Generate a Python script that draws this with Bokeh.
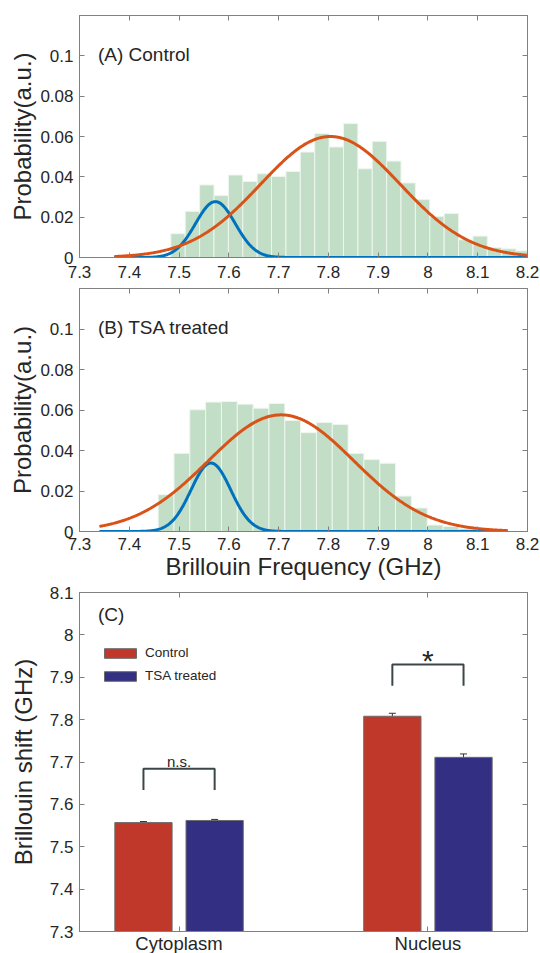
import numpy as np
from bokeh.plotting import figure
from bokeh.layouts import column
from bokeh.models import (Range1d, LinearAxis, FixedTicker, Legend, LegendItem,
                          Whisker, TeeHead, ColumnDataSource, Label,
                          CustomLabelingPolicy)
from bokeh.core.properties import value
from bokeh.embed import file_html
from bokeh.resources import INLINE

# ---------------- data ----------------
freq_ticks = [7.3, 7.4, 7.5, 7.6, 7.7, 7.8, 7.9, 8.0, 8.1, 8.2]
freq_tick_labels = ["7.3", "7.4", "7.5", "7.6", "7.7", "7.8", "7.9", "8", "8.1", "8.2"]
prob_ticks = [0, 0.02, 0.04, 0.06, 0.08, 0.1]
prob_tick_labels = ["0", "0.02", "0.04", "0.06", "0.08", "0.1"]

# (A) Control histogram
control_bin_start = 7.4835
control_bin_width = 0.0289
control_hist = [0.0118, 0.0229, 0.0360, 0.0307, 0.0409, 0.0377, 0.0415, 0.0402,
                0.0427, 0.0523, 0.0615, 0.0548, 0.0664, 0.0440, 0.0576, 0.0478,
                0.0370, 0.0287, 0.0204, 0.0218, 0.0088, 0.0106, 0.0050, 0.0043,
                0.0033]
# Gaussian fits: amplitude, mean, sigma
control_fit_cyto = [0.0277, 7.573, 0.040]
control_fit_nucleus = [0.0600, 7.804, 0.140]
control_fit_span = [7.37, 8.2]

# (B) TSA treated histogram
tsa_bin_start = 7.458
tsa_bin_width = 0.0318
tsa_hist = [0.0182, 0.0386, 0.0601, 0.0639, 0.0642, 0.0629, 0.0609, 0.0632,
            0.0548, 0.0488, 0.0538, 0.0528, 0.0386, 0.0355, 0.0337, 0.0175,
            0.0116, 0.0032, 0.0025, 0.0014]
tsa_fit_cyto = [0.0338, 7.564, 0.040]
tsa_fit_nucleus = [0.0576, 7.705, 0.146]
tsa_fit_span = [7.34, 8.16]

# (C) bar chart
compartments = ["Cytoplasm", "Nucleus"]
shift_control = [7.557, 7.808]
shift_control_err = [0.0025, 0.007]
shift_tsa = [7.562, 7.711]
shift_tsa_err = [0.0025, 0.008]
significance = ["n.s.", "*"]
shift_ticks = [7.3, 7.4, 7.5, 7.6, 7.7, 7.8, 7.9, 8.0, 8.1]
shift_tick_labels = ["7.3", "7.4", "7.5", "7.6", "7.7", "7.8", "7.9", "8", "8.1"]

# ---------------- style ----------------
FONT = "Liberation Sans"
TXT = "#262626"
AX = "#808080"
HIST_FILL = "#c2dec6"
BLUE = "#0072BD"
RED = "#D95319"
BAR_RED = "#c0382a"
BAR_BLUE = "#332f83"
FRAME_W = 448

NO_LABELS = CustomLabelingPolicy(
    code="for (const i of Array.from(indices)) { indices.unset(i) }\nreturn indices")


def base_fig(xr, yr, frame_h, top, bottom):
    p = figure(frame_width=FRAME_W, frame_height=frame_h,
               x_range=Range1d(*xr), y_range=Range1d(*yr),
               toolbar_location=None, output_backend="svg",
               min_border_left=79, min_border_right=13,
               min_border_top=top, min_border_bottom=bottom,
               background_fill_color="white", border_fill_color="white",
               outline_line_color=AX, outline_line_width=1)
    p.xgrid.visible = False
    p.ygrid.visible = False
    return p


def style_axis(ax, ticks, labels, size, standoff):
    ax.ticker = FixedTicker(ticks=ticks)
    ax.major_label_overrides = dict(zip(ticks, labels))
    ax.major_tick_in = 5
    ax.major_tick_out = 0
    ax.minor_tick_line_color = None
    ax.axis_line_color = AX
    ax.major_tick_line_color = AX
    ax.major_label_text_font = FONT
    ax.major_label_text_font_size = size
    ax.major_label_text_color = TXT
    ax.major_label_standoff = standoff
    ax.axis_label_text_font = FONT
    ax.axis_label_text_font_size = "24px"
    ax.axis_label_text_font_style = "normal"
    ax.axis_label_text_color = TXT


def box_axes(p, xticks, yticks):
    # tick marks only on the top and right edges (box style)
    for ticks, side in [(xticks, "above"), (yticks, "right")]:
        ax = LinearAxis(ticker=FixedTicker(ticks=ticks),
                        major_label_policy=NO_LABELS,
                        major_label_text_font_size="0px",
                        major_label_standoff=0, major_tick_in=5,
                        major_tick_out=0, minor_tick_line_color=None,
                        axis_line_color=AX, major_tick_line_color=AX)
        p.add_layout(ax, side)


def gauss(xs, params):
    a, m, s = params
    return a * np.exp(-(xs - m) ** 2 / (2 * s * s))


def hist_panel(bin_start, bin_width, heights, fit_c, fit_n, span, title,
               frame_h, top, bottom, xlabel):
    p = base_fig((7.3, 8.2), (0, 0.12), frame_h, top, bottom)
    n = len(heights)
    left = bin_start + bin_width * np.arange(n)
    p.quad(left=left, right=left + bin_width, bottom=0, top=heights,
           fill_color=HIST_FILL, line_color="#eef6ef", line_width=1)
    xs = np.linspace(span[0], span[1], 500)
    p.line(xs, gauss(xs, fit_c), line_color=BLUE, line_width=3)
    p.line(xs, gauss(xs, fit_n), line_color=RED, line_width=3)
    xa = p.below[0]
    ya = p.left[0]
    style_axis(xa, freq_ticks, freq_tick_labels, "17px", 8 if xlabel is None else 6)
    style_axis(ya, prob_ticks, prob_tick_labels, "17px", 6)
    ya.axis_label = "Probability(a.u.)"
    ya.axis_label_standoff = 1
    if xlabel:
        xa.axis_label = xlabel
        xa.axis_label_standoff = 0
    box_axes(p, freq_ticks, prob_ticks)
    p.add_layout(Label(x=7.337, y=0.1005, text=title, text_font=FONT,
                       text_font_size="19px", text_baseline="middle",
                       text_color=TXT))
    return p


pa = hist_panel(control_bin_start, control_bin_width, control_hist,
                control_fit_cyto, control_fit_nucleus, control_fit_span,
                "(A) Control", 242, 15, 31, None)
pb = hist_panel(tsa_bin_start, tsa_bin_width, tsa_hist,
                tsa_fit_cyto, tsa_fit_nucleus, tsa_fit_span,
                "(B) TSA treated", 243, 0, 53, "Brillouin Frequency (GHz)")

# ---------------- panel C ----------------
pc = base_fig((0.6, 2.4), (7.3, 8.1), 339, 8, 22)
idx = np.arange(1, len(compartments) + 1)
offset = 0.143
bar_w = 0.23
src_ctrl = ColumnDataSource(dict(
    x=idx - offset, top=shift_control,
    upper=np.array(shift_control) + np.array(shift_control_err),
    lower=np.array(shift_control) - np.array(shift_control_err)))
src_tsa = ColumnDataSource(dict(
    x=idx + offset, top=shift_tsa,
    upper=np.array(shift_tsa) + np.array(shift_tsa_err),
    lower=np.array(shift_tsa) - np.array(shift_tsa_err)))
r_ctrl = pc.vbar(x="x", top="top", bottom=0, width=bar_w, source=src_ctrl,
                 fill_color=BAR_RED, line_color="#6a6a6a", line_width=1)
r_tsa = pc.vbar(x="x", top="top", bottom=0, width=bar_w, source=src_tsa,
                fill_color=BAR_BLUE, line_color="#6a6a6a", line_width=1)
for src in (src_ctrl, src_tsa):
    pc.add_layout(Whisker(source=src, base="x", upper="upper", lower="lower",
                          dimension="height", line_color="#333333", line_width=1,
                          upper_head=TeeHead(size=7, line_color="#333333", line_width=1),
                          lower_head=TeeHead(size=7, line_color="#333333", line_width=1)))

# significance brackets
peak = np.maximum(shift_control, shift_tsa)
br_xs = [[i - offset, i - offset, i + offset, i + offset] for i in idx]
br_ys = [[m + 0.072, m + 0.122, m + 0.122, m + 0.072] for m in peak]
pc.multi_line(xs=br_xs, ys=br_ys, line_color="#3b4649", line_width=2)
pc.text(x=[idx[0]], y=[peak[0] + 0.140], text=[significance[0]],
        text_font=value(FONT), text_font_size="15px", text_align="center",
        text_baseline="alphabetic", text_color=TXT)
pc.text(x=[idx[1]], y=[peak[1] + 0.132], text=[significance[1]],
        text_font=value(FONT), text_font_size="30px", text_align="center",
        text_baseline="middle", text_color=TXT)

xa = pc.below[0]
ya = pc.left[0]
style_axis(xa, list(idx.astype(float)), compartments, "18.5px", 1)
style_axis(ya, shift_ticks, shift_tick_labels, "17px", 6)
ya.axis_label = "Brillouin shift (GHz)"
ya.axis_label_standoff = 10
box_axes(pc, list(idx.astype(float)), shift_ticks)
pc.add_layout(Label(x=0.674, y=8.047, text="(C)", text_font=FONT,
                    text_font_size="19px", text_baseline="middle", text_color=TXT))

legend = Legend(items=[LegendItem(label="Control", renderers=[r_ctrl]),
                       LegendItem(label="TSA treated", renderers=[r_tsa])],
                location=(21, 248), glyph_width=40, glyph_height=12,
                label_text_font=FONT, label_text_font_size="13.5px",
                label_text_color=TXT, label_standoff=5, spacing=8,
                padding=0, margin=0, border_line_color=None,
                background_fill_alpha=0)
pc.add_layout(legend)

layout = column(pa, pb, pc, spacing=0)
open("out.html", "w").write(file_html(layout, INLINE))
